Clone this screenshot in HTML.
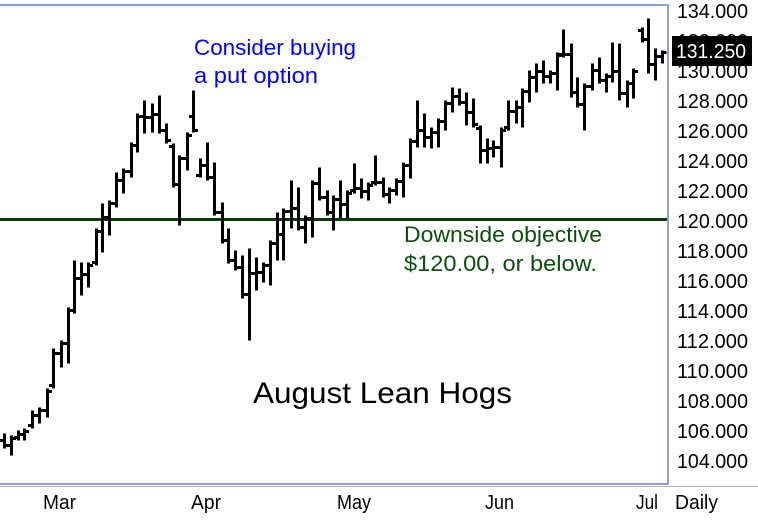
<!DOCTYPE html>
<html><head><meta charset="utf-8"><style>
html,body{margin:0;padding:0;background:#fff;width:758px;height:522px;overflow:hidden}
svg{display:block}
text{font-family:"Liberation Sans",Arial,sans-serif}
</style></head><body>
<svg width="758" height="522" viewBox="0 0 758 522" xmlns="http://www.w3.org/2000/svg">
<rect width="758" height="522" fill="#fff"/>
<line x1="0" y1="486.5" x2="758" y2="486.5" stroke="#b4b4b4" stroke-width="1"/>
<rect x="-2" y="5" width="670" height="479" fill="none" stroke="#8fa0d8" stroke-width="2"/>
<line x1="0" y1="219.5" x2="667" y2="219.5" stroke="#064006" stroke-width="3"/>
<g transform="translate(0.5,0.5)">
<path fill="none" stroke="#000" stroke-width="3" d="M4 433V448M-0.5 440H4M4 445H8.5 M11 435V455M6.5 445H11M11 438H15.5 M18 430V440M13.5 437H18M18 434H22.5 M24 428V440M19.5 434H24M24 431H28.5 M32 410V428M27.5 425H32M32 415H36.5 M39 407V423M34.5 415H39M39 410H43.5 M47 388V417M42.5 410H47M47 391H51.5 M53 348V388M48.5 385H53M53 353H57.5 M61 340V367M56.5 353H61M61 343H65.5 M68 307V363M63.5 343H68M68 310H72.5
M74 260V313M69.5 310H74M74 278H78.5 M81 262V295M76.5 278H81M81 274H85.5 M88 262V287M83.5 274H88M88 265H92.5 M96 228V265M91.5 262H96M96 231H100.5 M102 203V252M97.5 231H102M102 217H106.5 M109 200V235M104.5 217H109M109 203H113.5 M116 172V207M111.5 203H116M116 180H120.5 M123 168V193M118.5 180H123M123 171H127.5 M131 142V177M126.5 171H131M131 145H135.5 M137 113V152M132.5 145H137M137 116H141.5
M144 100V133M139.5 116H144M144 117H148.5 M152 103V132M147.5 117H152M152 114H156.5 M159 95V133M154.5 114H159M159 130H163.5 M166 123V143M161.5 130H166M166 140H170.5 M173 143V187M168.5 146H173M173 184H177.5 M179 155V225M174.5 184H179M179 158H183.5 M187 132V170M182.5 158H187M187 135H191.5 M193 90V132M188.5 116H193M193 130H197.5 M200 158V177M195.5 175H200M200 165H204.5 M207 142V180M202.5 165H207M207 177H211.5
M214 162V215M209.5 177H214M214 212H218.5 M222 202V243M217.5 212H222M222 240H226.5 M228 228V263M223.5 240H228M228 260H232.5 M235 250V270M230.5 260H235M235 267H239.5 M242 255V298M237.5 267H242M242 294H246.5 M249 248V340M244.5 294H249M249 273H253.5 M256 257V290M251.5 273H256M256 272H260.5 M263 262V282M258.5 272H263M263 265H267.5 M270 240V285M265.5 265H270M270 243H274.5 M277 212V260M272.5 243H277M277 234H281.5
M283 208V260M278.5 234H283M283 211H287.5 M291 180V228M286.5 211H291M291 208H295.5 M298 187V230M293.5 208H298M298 227H302.5 M305 215V243M300.5 227H305M305 218H309.5 M312 180V237M307.5 218H312M312 183H316.5 M319 167V200M314.5 183H319M319 197H323.5 M327 190V215M322.5 197H327M327 212H331.5 M333 195V230M328.5 212H333M333 199H337.5 M340 180V218M335.5 199H340M340 204H344.5 M347 190V218M342.5 204H347M347 193H351.5
M354 163V193M349.5 190H354M354 188H358.5 M361 178V198M356.5 188H361M361 191H365.5 M368 182V200M363.5 191H368M368 185H372.5 M375 155V185M370.5 182H375M375 182H379.5 M383 177V197M378.5 182H383M383 194H387.5 M389 187V203M384.5 194H389M389 190H393.5 M396 178V195M391.5 190H396M396 181H400.5 M403 162V197M398.5 181H403M403 165H407.5 M410 138V178M405.5 165H410M410 141H414.5 M417 100V147M412.5 141H417M417 130H421.5
M424 113V147M419.5 130H424M424 137H428.5 M431 127V148M426.5 137H431M431 132H435.5 M438 118V147M433.5 132H438M438 121H442.5 M445 100V130M440.5 121H445M445 103H449.5 M452 87V112M447.5 103H452M452 96H456.5 M459 88V105M454.5 96H459M459 102H463.5 M466 92V125M461.5 102H466M466 112H470.5 M473 98V127M468.5 112H473M473 124H477.5 M480 125V163M475.5 128H480M480 150H484.5 M487 138V163M482.5 150H487M487 148H491.5
M493 140V157M488.5 148H493M493 147H497.5 M501 127V167M496.5 147H501M501 130H505.5 M508 100V130M503.5 127H508M508 111H512.5 M516 100V123M511.5 111H516M516 107H520.5 M522 88V127M517.5 107H522M522 91H526.5 M529 70V102M524.5 91H529M529 77H533.5 M536 63V92M531.5 77H536M536 71H540.5 M543 60V83M538.5 71H543M543 76H547.5 M550 70V83M545.5 76H550M550 73H554.5 M557 52V90M552.5 73H557M557 55H561.5
M563 29V57M558.5 54H563M563 54H567.5 M571 43V97M566.5 54H571M571 92H575.5 M577 77V107M572.5 92H577M577 104H581.5 M584 83V130M579.5 104H584M584 86H588.5 M592 63V90M587.5 86H592M592 70H596.5 M599 57V83M594.5 70H599M599 80H603.5 M606 73V92M601.5 80H606M606 76H610.5 M612 42V82M607.5 76H612M612 71H616.5 M619 43V100M614.5 71H619M619 93H623.5 M627 80V107M622.5 93H627M627 83H631.5
M633 68V98M628.5 83H633M633 71H637.5 M642 27V42M637.5 30H642M642 39H646.5 M648 18V73M643.5 39H648M648 64H652.5 M655 48V80M650.5 64H655M655 56H659.5 M662 50V63M657.5 56H662M662 52H666"/>
</g>
<g font-size="20" fill="#000">
<text x="677" y="18" textLength="71" lengthAdjust="spacingAndGlyphs">134.000</text>
<text x="677" y="48" textLength="71" lengthAdjust="spacingAndGlyphs">132.000</text>
<text x="677" y="78" textLength="71" lengthAdjust="spacingAndGlyphs">130.000</text>
<text x="677" y="108" textLength="71" lengthAdjust="spacingAndGlyphs">128.000</text>
<text x="677" y="138" textLength="71" lengthAdjust="spacingAndGlyphs">126.000</text>
<text x="677" y="168" textLength="71" lengthAdjust="spacingAndGlyphs">124.000</text>
<text x="677" y="198" textLength="71" lengthAdjust="spacingAndGlyphs">122.000</text>
<text x="677" y="228" textLength="71" lengthAdjust="spacingAndGlyphs">120.000</text>
<text x="677" y="258" textLength="71" lengthAdjust="spacingAndGlyphs">118.000</text>
<text x="677" y="288" textLength="71" lengthAdjust="spacingAndGlyphs">116.000</text>
<text x="677" y="318" textLength="71" lengthAdjust="spacingAndGlyphs">114.000</text>
<text x="677" y="348" textLength="71" lengthAdjust="spacingAndGlyphs">112.000</text>
<text x="677" y="378" textLength="71" lengthAdjust="spacingAndGlyphs">110.000</text>
<text x="677" y="408" textLength="71" lengthAdjust="spacingAndGlyphs">108.000</text>
<text x="677" y="438" textLength="71" lengthAdjust="spacingAndGlyphs">106.000</text>
<text x="677" y="468" textLength="71" lengthAdjust="spacingAndGlyphs">104.000</text>
</g>
<rect x="672" y="36" width="80" height="30" fill="#000"/>
<text x="676" y="58" font-size="20" fill="#fff" textLength="70" lengthAdjust="spacingAndGlyphs">131.250</text>
<g font-size="20" fill="#000">
<text x="43" y="509" textLength="33" lengthAdjust="spacingAndGlyphs">Mar</text>
<text x="191" y="509" textLength="30" lengthAdjust="spacingAndGlyphs">Apr</text>
<text x="337" y="509" textLength="34" lengthAdjust="spacingAndGlyphs">May</text>
<text x="485" y="509" textLength="29" lengthAdjust="spacingAndGlyphs">Jun</text>
<text x="636" y="509" textLength="22" lengthAdjust="spacingAndGlyphs">Jul</text>
<text x="675" y="509" textLength="43" lengthAdjust="spacingAndGlyphs">Daily</text>
</g>
<g font-size="22" fill="#0000ff">
<text x="194" y="55" textLength="162" lengthAdjust="spacingAndGlyphs">Consider buying</text>
<text x="194" y="83" textLength="124" lengthAdjust="spacingAndGlyphs">a put option</text>
</g>
<g font-size="22" fill="#0a4f0a">
<text x="404" y="242" textLength="198" lengthAdjust="spacingAndGlyphs">Downside objective</text>
<text x="404" y="271" textLength="193" lengthAdjust="spacingAndGlyphs">$120.00, or below.</text>
</g>
<text x="253" y="403" font-size="30" fill="#000" textLength="259" lengthAdjust="spacingAndGlyphs">August Lean Hogs</text>
</svg>
</body></html>
